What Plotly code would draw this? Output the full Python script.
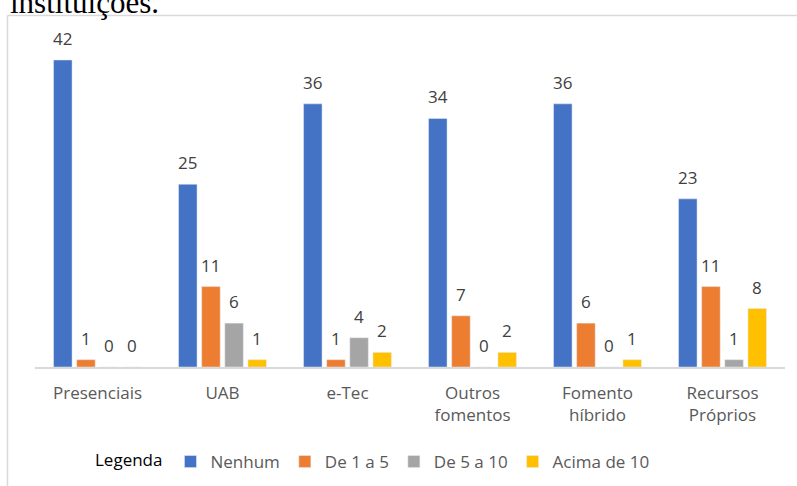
import plotly.graph_objects as go

categories = ["Presenciais", "UAB", "e-Tec", "Outros<br>fomentos", "Fomento<br>híbrido", "Recursos<br>Próprios"]
series_names = ["Nenhum", "De 1 a 5", "De 5 a 10", "Acima de 10"]
nenhum = [42, 25, 36, 34, 36, 23]
de1a5 = [1, 11, 1, 7, 6, 11]
de5a10 = [0, 6, 4, 0, 0, 1]
acima10 = [0, 1, 2, 2, 1, 8]
colors = ["#4472C4", "#ED7D31", "#A5A5A5", "#FFC000"]

W, H = 797, 486
L, R, T, B = 35, 12, 20, 119
pw, ph = W - L - R, H - T - B
BARGAP, GROUPGAP = 0.26, 0.2

def px_x(p):
    return (p - L) / pw

def px_y(p):
    return (H - B - p) / ph

FONT = "Open Sans"
FS = 17
fig = go.Figure()
all_series = [nenhum, de1a5, de5a10, acima10]
n_series = len(all_series)
slot = (pw / len(categories)) * (1 - BARGAP) / n_series
annotations = []
for i, (name, vals, col) in enumerate(zip(series_names, all_series, colors)):
    fig.add_trace(go.Bar(
        x=categories, y=vals, name=name, marker_color=col,
    ))
    for c, v in zip(categories, vals):
        annotations.append(dict(
            x=c, y=v, xref="x", yref="y", text=str(v), showarrow=False,
            xanchor="center", yanchor="bottom",
            xshift=(i - (n_series - 1) / 2) * slot, yshift=8,
            font=dict(family=FONT, size=FS, color="#404040"),
        ))

annotations.append(dict(text="instituições.", xref="paper", yref="paper", x=px_x(8), y=px_y(22),
                        xanchor="left", yanchor="bottom", showarrow=False,
                        font=dict(family="Liberation Serif", size=31, color="#000000")))

fig.update_layout(
    width=W, height=H,
    margin=dict(l=L, r=R, t=T, b=B, autoexpand=False),
    paper_bgcolor="white", plot_bgcolor="white",
    barmode="group", bargap=BARGAP, bargroupgap=GROUPGAP,
    font=dict(family=FONT, size=FS, color="#595959"),
    xaxis=dict(showgrid=False, showline=True, linecolor="#D9D9D9", linewidth=1.5,
               ticks="", tickfont=dict(family=FONT, size=FS, color="#595959"),
               ticklabelstandoff=10, fixedrange=True, automargin=False),
    yaxis=dict(visible=False, range=[0, ph / 7.31], fixedrange=True),
    showlegend=True,
    legend=dict(orientation="h", x=px_x(93), xanchor="left", y=px_y(462), yanchor="middle",
                title=dict(text="Legenda", font=dict(family=FONT, size=FS, color="#000000")),
                font=dict(family=FONT, size=FS, color="#595959"),
                traceorder="normal", itemwidth=30),
    shapes=[
        dict(type="line", xref="paper", yref="paper", x0=px_x(7.5), x1=px_x(800), y0=px_y(15.5), y1=px_y(15.5),
             line=dict(color="#D9D9D9", width=1.5)),
        dict(type="line", xref="paper", yref="paper", x0=px_x(7.5), x1=px_x(7.5), y0=px_y(15.5), y1=px_y(490),
             line=dict(color="#D9D9D9", width=1.5)),
    ],
    annotations=annotations,
)

fig.write_html("out.html")
